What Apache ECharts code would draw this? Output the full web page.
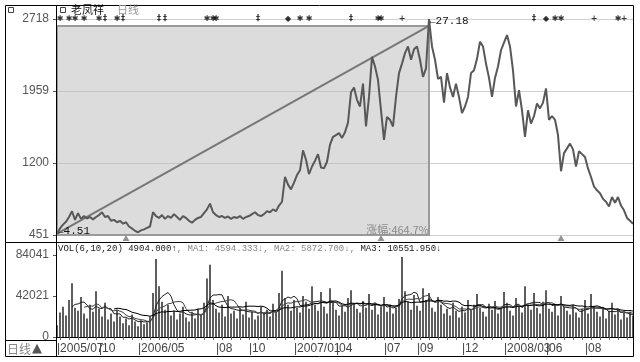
<!DOCTYPE html>
<html><head><meta charset="utf-8">
<script src="https://cdn.jsdelivr.net/npm/echarts@6/dist/echarts.min.js"></script>
<style>html,body{margin:0;padding:0;background:#fff}#c{width:640px;height:362px}</style>
</head><body><div id="c"></div>
<script>
// ---- data ----
const prices = [
465,520,560,590,640,700,610,680,620,650,
625,640,615,640,660,690,640,650,600,610,
585,600,570,585,540,520,495,480,500,510,
525,540,690,650,630,660,620,650,630,670,
640,610,650,630,600,580,610,630,640,680,
720,780,690,660,640,650,630,645,620,640,
630,650,620,640,650,670,690,660,650,670,
700,690,720,700,760,800,1060,980,930,1000,
1080,1130,1340,1240,1090,1170,1230,1300,1160,1150,
1220,1400,1480,1500,1520,1470,1530,1630,1950,2000,
1870,1800,2040,1590,1900,2320,2220,2080,1760,1450,
1690,1660,1590,1900,2150,2250,2360,2430,2290,2400,
2430,2290,2110,2200,2718,2430,2290,2090,2110,1840,
2150,2000,1900,2040,1900,1730,1800,1900,2150,2180,
2300,2480,2430,2250,2100,1900,2100,2220,2390,2470,
2550,2430,2180,1800,1970,1760,1480,1760,1620,1700,
1830,1780,1840,1990,1660,1700,1660,1500,1120,1310,
1360,1410,1350,1170,1330,1300,1270,1150,1060,960,
920,890,830,800,750,850,790,850,760,710,
630,600,570];
const volumes = [
12000,25000,31000,22000,38000,55000,30000,27000,41000,24000,
19000,33000,26000,47000,29000,21000,35000,18000,24000,16000,
28000,21000,14000,19000,12000,23000,16000,11000,17000,13000,
15000,21000,45000,80000,52000,36000,28000,33000,22000,27000,
18000,24000,31000,20000,16000,26000,19000,29000,22000,35000,
60000,74000,38000,29000,25000,33000,21000,42000,24000,27000,
19000,30000,23000,36000,20000,26000,18000,22000,31000,24000,
28000,21000,34000,26000,45000,68000,40000,33000,27000,38000,
30000,25000,42000,36000,29000,52000,33000,27000,46000,31000,
24000,50000,35000,28000,22000,32000,26000,40000,48000,34000,
29000,25000,37000,30000,44000,28000,35000,23000,31000,41000,
26000,33000,24000,30000,39000,82000,47000,36000,28000,43000,
32000,27000,50000,38000,45000,30000,26000,41000,33000,24000,
29000,22000,35000,27000,20000,31000,25000,38000,28000,33000,
44000,30000,26000,21000,34000,28000,37000,24000,30000,46000,
35000,27000,22000,40000,31000,25000,52000,33000,28000,45000,
30000,24000,36000,48000,29000,26000,34000,22000,42000,31000,
27000,23000,33000,25000,20000,29000,38000,24000,44000,32000,
26000,21000,30000,19000,27000,35000,23000,28000,18000,25000,
20000,26000,22000];
const dateLabels   = ['2005/07','10','2006/05','08','10','2007/01','04','07','09','12','2008/03','06','08'];
const dateLabelIdx = [0,14,27,53,64,79,93,109,120,135,149,163,176];
const priceTicks = ['451','1200','1959','2718'];
const volTicks = ['0','42021','84041'];
const markerIdx   = [1,4,6,9,14,16,20,22,34,36,50,52,53,67,77,81,84,98,107,108,115,159,163,166,168,179,187,189];
const markerGlyph = ['✱','✱','✱','✱','✱','‡','✱','‡','‡','‡','✱','✱','✱','‡','◆','✱','✱','‡','✱','✱','+','‡','◆','✱','✱','+','✱','+'];
const exRightIdx = [23,108,168];
const lowIdx = 0, lowText = '4.51';
const highIdx = 124, highText = '27.18';
const boxTop = 2645, lineStart = 465;
const gainText = '涨幅:464.7%';
const volHeader = {name:'VOL(6,10,20)', vol:'4904.000↑', ma1:'MA1: 4594.333↓', ma2:'MA2: 5872.700↓', ma3:'MA3: 10551.950↓'};

// ---- build ----
const cats = prices.map((_, i) => String(i));
const labelMap = {};
dateLabelIdx.forEach((ix, k) => labelMap[ix] = dateLabels[k]);
function ma(arr, n) {
  return arr.map((_, i) => {
    if (i < n - 1) return '-';
    let s = 0; for (let k = i - n + 1; k <= i; k++) s += arr[k];
    return s / n;
  });
}
const pMin = 451, pMax = 2718, pInt = (pMax - pMin) / 3;
const vMax = 84041, vInt = vMax / 2;
const axisFont = 'Liberation Sans, Arial, sans-serif';

const chart = echarts.init(document.getElementById('c'), null, {renderer: 'canvas'});
chart.setOption({
  animation: false,
  backgroundColor: '#fff',
  grid: [
    {left: 57, right: 7, top: 19, height: 216},
    {left: 57, right: 7, top: 255, height: 82}
  ],
  xAxis: [
    {type: 'category', gridIndex: 0, data: cats, boundaryGap: false, show: false},
    {type: 'category', gridIndex: 1, data: cats, boundaryGap: false,
     axisLine: {show: true, lineStyle: {color: '#000', width: 1}},
     axisTick: {show: true, length: 3, interval: (i) => i % 3 === 1, lineStyle: {color: '#666'}},
     splitLine: {show: false},
     axisLabel: {show: true, align: 'left', margin: 6, fontSize: 12, color: '#444', fontFamily: axisFont,
       interval: 0, hideOverlap: false,
       formatter: (v, i) => labelMap[i] !== undefined ? '|' + labelMap[i] : ''}}
  ],
  yAxis: [
    {type: 'value', gridIndex: 0, min: pMin, max: pMax, interval: pInt,
     axisLine: {show: false},
     axisTick: {show: true, length: 4, lineStyle: {color: '#555'}},
     splitLine: {show: true, lineStyle: {color: '#d0d0d0', width: 1}},
     axisLabel: {margin: 8, fontSize: 12, color: '#555', fontFamily: axisFont,
       showMinLabel: true, showMaxLabel: true,
       formatter: (v) => priceTicks[Math.round((v - pMin) / pInt)] || ''}},
    {type: 'value', gridIndex: 1, min: 0, max: vMax, interval: vInt,
     axisLine: {show: false},
     axisTick: {show: true, length: 4, lineStyle: {color: '#555'}},
     splitLine: {show: false},
     axisLabel: {margin: 8, fontSize: 12, color: '#555', fontFamily: axisFont,
       showMinLabel: true, showMaxLabel: true,
       formatter: (v) => volTicks[Math.round(v / vInt)] || ''}}
  ],
  series: [
    {type: 'line', xAxisIndex: 0, yAxisIndex: 0, data: prices, showSymbol: false, z: 5,
     lineStyle: {color: '#585858', width: 2},
     markArea: {silent: true,
       itemStyle: {color: 'rgba(185,185,185,0.5)', borderColor: '#9a9a9a', borderWidth: 2},
       label: {show: true, position: 'insideBottomRight', distance: 1, color: '#8a8a8a', fontSize: 11,
         fontFamily: 'Noto Sans CJK SC, sans-serif', formatter: gainText},
       data: [[{coord: [lowIdx, pMin]}, {coord: [highIdx, boxTop]}]]},
     markLine: {silent: true, symbol: 'none', label: {show: false},
       lineStyle: {color: '#777', width: 2, type: 'solid'},
       data: [[{coord: [lowIdx, lineStart]}, {coord: [highIdx, boxTop]}]]},
     markPoint: {silent: true, symbol: 'circle', symbolSize: 0,
       label: {show: true, position: 'right', distance: 0, color: '#111', fontSize: 11,
         fontFamily: 'Liberation Mono, monospace'},
       data: [
         {coord: [lowIdx, pMin], label: {formatter: '←' + lowText, offset: [0, -4]}},
         {coord: [highIdx, pMax], label: {formatter: '←' + highText, offset: [0, 2]}}
       ]}
    },
    {type: 'scatter', xAxisIndex: 0, yAxisIndex: 0, z: 6, clip: false, symbolSize: 0,
     data: markerIdx.map((ix) => [ix, pMax]),
     label: {show: true, position: 'inside', color: '#000', fontSize: 8, fontWeight: 'bold',
       fontFamily: 'DejaVu Sans, sans-serif',
       formatter: (p) => markerGlyph[p.dataIndex]}},
    {type: 'scatter', xAxisIndex: 0, yAxisIndex: 0, z: 6, clip: false,
     symbol: 'triangle', symbolSize: [7, 6], symbolOffset: [0, 3],
     itemStyle: {color: '#777'},
     data: exRightIdx.map((ix) => [ix, pMin])},
    {type: 'bar', xAxisIndex: 1, yAxisIndex: 1, data: volumes, barWidth: 2,
     itemStyle: {color: '#5e5e5e'}},
    {type: 'line', xAxisIndex: 1, yAxisIndex: 1, data: ma(volumes, 6), showSymbol: false,
     lineStyle: {color: '#222', width: 1}},
    {type: 'line', xAxisIndex: 1, yAxisIndex: 1, data: ma(volumes, 10), showSymbol: false,
     lineStyle: {color: '#444', width: 1}},
    {type: 'line', xAxisIndex: 1, yAxisIndex: 1, data: ma(volumes, 20), showSymbol: false,
     lineStyle: {color: '#000', width: 1}}
  ],
  graphic: [
    {type: 'rect', z: 100, silent: true, shape: {x: 5.5, y: 5.5, width: 628, height: 351},
     style: {fill: null, stroke: '#000', lineWidth: 1}},
    {type: 'line', z: 100, silent: true, shape: {x1: 56.5, y1: 5, x2: 56.5, y2: 357}, style: {stroke: '#000', lineWidth: 1}},
    {type: 'line', z: 100, silent: true, shape: {x1: 5, y1: 242.5, x2: 633, y2: 242.5}, style: {stroke: '#000', lineWidth: 1}},
    {type: 'line', z: 100, silent: true, shape: {x1: 5, y1: 340.5, x2: 57, y2: 340.5}, style: {stroke: '#000', lineWidth: 1}},
    {type: 'rect', z: 100, silent: true, shape: {x: 8.5, y: 7.5, width: 5, height: 5}, style: {fill: null, stroke: '#444', lineWidth: 1}},
    {type: 'rect', z: 100, silent: true, shape: {x: 60.5, y: 7.5, width: 5, height: 5}, style: {fill: null, stroke: '#444', lineWidth: 1}},
    {type: 'text', z: 100, silent: true, left: 71, top: 4,
     style: {text: '老凤祥', fill: '#111', font: '11px "Noto Sans CJK SC", sans-serif'}},
    {type: 'text', z: 100, silent: true, left: 117, top: 4,
     style: {text: '日线', fill: '#999', font: '11px "Noto Sans CJK SC", sans-serif'}},
    {type: 'text', z: 100, silent: true, left: 7, top: 343,
     style: {text: '日线', fill: '#888', font: '12px "Noto Sans CJK SC", sans-serif'}},
    {type: 'text', z: 100, silent: true, left: 32, top: 342,
     style: {text: '▲', fill: '#555', font: '13px "DejaVu Sans", sans-serif'}},
    {type: 'text', z: 100, silent: true, left: 58, top: 244,
     style: {
       text: '{a|' + volHeader.name + '} {a|' + volHeader.vol + '}{b|, ' + volHeader.ma1 + ', ' + volHeader.ma2 + ', }{a|' + volHeader.ma3 + '}',
       font: '9px "Liberation Mono", monospace',
       rich: {a: {fill: '#222', font: '9px "Liberation Mono", monospace'},
              b: {fill: '#888', font: '9px "Liberation Mono", monospace'}}}}
  ]
});
</script></body></html>
